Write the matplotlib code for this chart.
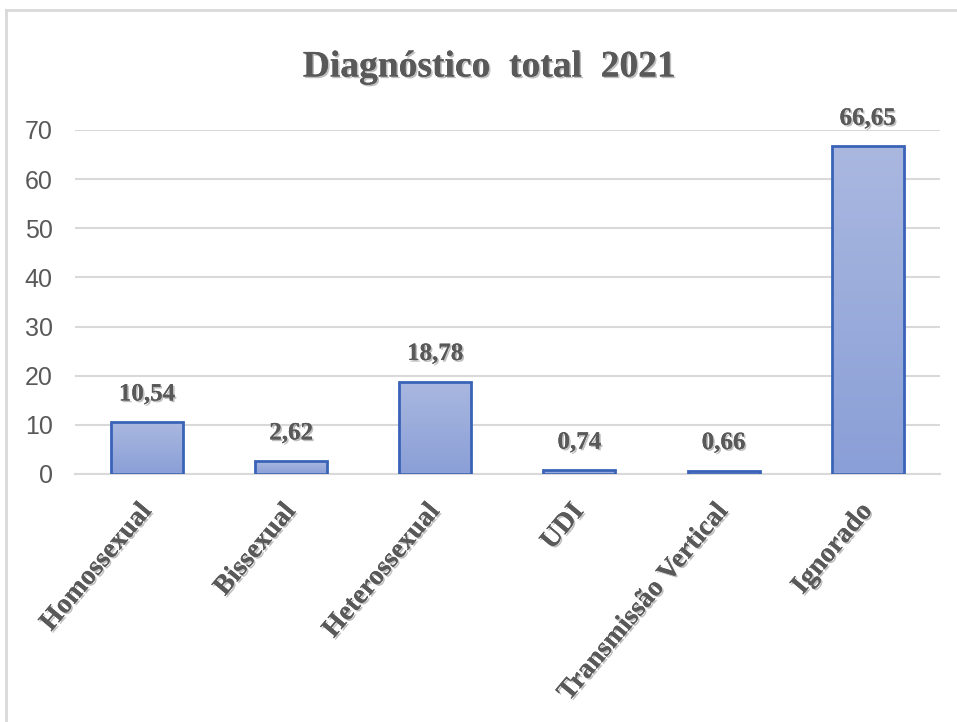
import matplotlib

matplotlib.use("Agg")
import matplotlib.patheffects as pe
import matplotlib.pyplot as plt
import numpy as np
from matplotlib.colors import LinearSegmentedColormap
from matplotlib.lines import Line2D

categories = ["Homossexual", "Bissexual", "Heterossexual", "UDI",
              "Transmissão Vertical", "Ignorado"]
values = [10.54, 2.62, 18.78, 0.74, 0.66, 66.65]
value_labels = ["10,54", "2,62", "18,78", "0,74", "0,66", "66,65"]
y_ticks = [0, 10, 20, 30, 40, 50, 60, 70]
title = "Diagnóstico  total  2021"

TEXT_GRAY = "#595959"
GRID_GRAY = "#d9d9d9"
EDGE_BLUE = "#3a63b8"
serif = ["Liberation Serif", "DejaVu Serif"]
sans = ["Liberation Sans Narrow", "Liberation Sans", "DejaVu Sans"]
shadow = [pe.withSimplePatchShadow(offset=(1.2, -1.2), shadow_rgbFace="#000000", alpha=0.25),
          pe.Normal()]

fig = plt.figure(figsize=(9.57, 7.22), dpi=100)
ax = fig.add_axes([0.0784, 0.3435, 0.9036, 0.4765])

# outer chart frame (top and left edges visible)
fig.add_artist(Line2D([6 / 957, 6 / 957], [0, 1 - 10 / 722], transform=fig.transFigure,
                      color=GRID_GRAY, lw=2))
fig.add_artist(Line2D([6 / 957, 1], [1 - 10 / 722, 1 - 10 / 722], transform=fig.transFigure,
                      color=GRID_GRAY, lw=2))

x = np.arange(len(categories))
bars = ax.bar(x, values, width=0.5, color="none", edgecolor=EDGE_BLUE, linewidth=2, zorder=3)

# vertical gradient fill, clipped to each bar
cmap = LinearSegmentedColormap.from_list("bar_grad", ["#8a9fd7", "#aab8e0"])
grad = np.linspace(0, 1, 256).reshape(-1, 1)
for rect in bars:
    x0, w, h = rect.get_x(), rect.get_width(), rect.get_height()
    img = ax.imshow(grad, cmap=cmap, origin="lower", aspect="auto",
                    extent=(x0, x0 + w, 0, h), zorder=2)
    img.set_clip_path(rect)

for rect, label in zip(bars, value_labels):
    ax.annotate(label, (rect.get_x() + rect.get_width() / 2, rect.get_height()),
                xytext=(0, 12), textcoords="offset points", ha="center", va="bottom",
                fontsize=18, fontweight="bold", family=serif, color=TEXT_GRAY,
                path_effects=shadow)

ax.set_xlim(-0.5, len(categories) - 0.5)
ax.set_ylim(0, 70)
ax.set_yticks(y_ticks)
ax.set_yticklabels([str(t) for t in y_ticks], family=sans, fontsize=18, color=TEXT_GRAY)
ax.set_xticks(x)
ax.set_xticklabels(categories, rotation=50, ha="right", va="center", rotation_mode="anchor",
                   family=serif, fontsize=20, fontweight="bold", color=TEXT_GRAY)
for lbl in ax.get_xticklabels():
    lbl.set_path_effects(shadow)
ax.tick_params(axis="both", length=0)
ax.tick_params(axis="y", pad=16)
ax.tick_params(axis="x", pad=24)

ax.grid(axis="y", color=GRID_GRAY, linewidth=1.5, zorder=0)
ax.set_axisbelow(True)
for side in ["top", "right", "left"]:
    ax.spines[side].set_visible(False)
ax.spines["bottom"].set_color(GRID_GRAY)
ax.spines["bottom"].set_linewidth(1.5)

fig.text(0.511, 1 - 67 / 722, title, ha="center", va="center", fontsize=27,
         fontweight="bold", family=serif, color=TEXT_GRAY, path_effects=shadow)

fig.savefig("out.png", dpi=100)
